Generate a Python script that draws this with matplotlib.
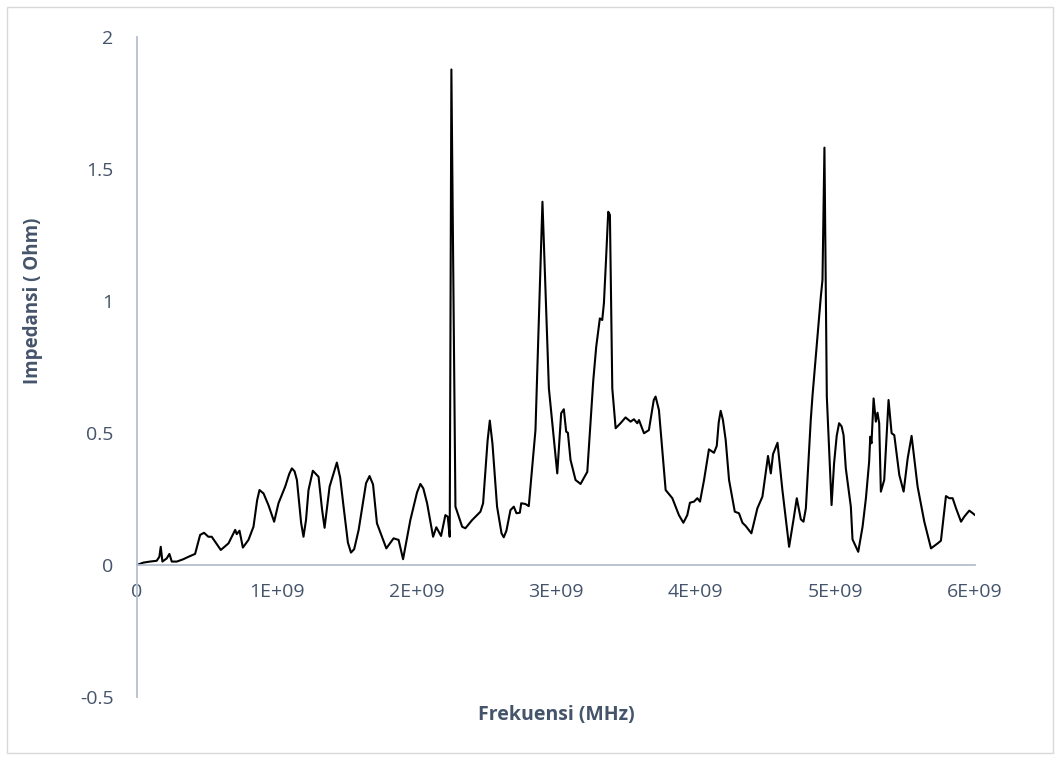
import matplotlib
matplotlib.use("Agg")
import matplotlib.pyplot as plt
from matplotlib.patches import Rectangle

# frequency in GHz (plotted in Hz), impedance in Ohm
freq_ghz = [
    0.000, 0.045, 0.093, 0.141, 0.160, 0.170, 0.182, 0.213, 0.232, 0.249,
    0.285, 0.332, 0.368, 0.416, 0.452, 0.480, 0.511, 0.535, 0.600, 0.655,
    0.703, 0.714, 0.734, 0.758, 0.798, 0.834, 0.860, 0.877, 0.906, 0.941,
    0.982, 1.013, 1.061, 1.090, 1.109, 1.128, 1.145, 1.175, 1.192, 1.210,
    1.228, 1.259, 1.300, 1.325, 1.343, 1.360, 1.379, 1.431, 1.455, 1.479,
    1.510, 1.532, 1.555, 1.587, 1.640, 1.665, 1.690, 1.718, 1.785, 1.837,
    1.873, 1.905, 1.957, 2.005, 2.029, 2.050, 2.077, 2.120, 2.143, 2.177,
    2.208, 2.225, 2.239, 2.251, 2.280, 2.328, 2.351, 2.399, 2.459, 2.478,
    2.510, 2.526, 2.545, 2.578, 2.610, 2.626, 2.645, 2.674, 2.698, 2.717,
    2.741, 2.751, 2.781, 2.805, 2.853, 2.903, 2.949, 3.009, 3.037, 3.056,
    3.073, 3.085, 3.104, 3.140, 3.176, 3.224, 3.267, 3.288, 3.314, 3.331,
    3.343, 3.357, 3.374, 3.386, 3.403, 3.427, 3.462, 3.498, 3.534, 3.558,
    3.582, 3.594, 3.630, 3.665, 3.700, 3.713, 3.737, 3.785, 3.833, 3.880,
    3.912, 3.940, 3.959, 3.988, 4.012, 4.031, 4.060, 4.095, 4.131, 4.151,
    4.165, 4.179, 4.195, 4.215, 4.239, 4.280, 4.310, 4.335, 4.358, 4.399,
    4.442, 4.478, 4.518, 4.538, 4.554, 4.586, 4.621, 4.669, 4.700, 4.724,
    4.753, 4.772, 4.789, 4.824, 4.836, 4.896, 4.908, 4.915, 4.922, 4.939,
    4.973, 4.991, 5.010, 5.027, 5.045, 5.059, 5.075, 5.111, 5.123, 5.164,
    5.195, 5.219, 5.242, 5.250, 5.259, 5.274, 5.290, 5.302, 5.314, 5.326,
    5.350, 5.381, 5.403, 5.422, 5.458, 5.489, 5.518, 5.546, 5.589, 5.637,
    5.661, 5.685, 5.733, 5.756, 5.792, 5.816, 5.840, 5.864, 5.900, 5.923,
    5.959, 5.984, 6.000,
]
impedance = [
    0.000, 0.009, 0.013, 0.016, 0.031, 0.069, 0.013, 0.025, 0.042, 0.013,
    0.013, 0.022, 0.031, 0.042, 0.114, 0.122, 0.107, 0.107, 0.057, 0.082,
    0.133, 0.117, 0.130, 0.066, 0.095, 0.145, 0.245, 0.284, 0.271, 0.227,
    0.164, 0.234, 0.297, 0.345, 0.366, 0.355, 0.322, 0.160, 0.107, 0.170,
    0.284, 0.357, 0.334, 0.210, 0.141, 0.215, 0.297, 0.388, 0.330, 0.221,
    0.085, 0.047, 0.060, 0.133, 0.310, 0.337, 0.305, 0.158, 0.063, 0.101,
    0.095, 0.022, 0.170, 0.275, 0.307, 0.290, 0.234, 0.107, 0.143, 0.110,
    0.189, 0.183, 0.107, 1.877, 0.221, 0.145, 0.139, 0.170, 0.202, 0.234,
    0.470, 0.547, 0.460, 0.221, 0.120, 0.105, 0.130, 0.208, 0.221, 0.196,
    0.198, 0.234, 0.231, 0.223, 0.511, 1.376, 0.669, 0.347, 0.575, 0.590,
    0.505, 0.501, 0.398, 0.322, 0.307, 0.353, 0.700, 0.827, 0.934, 0.928,
    0.991, 1.143, 1.338, 1.326, 0.669, 0.518, 0.537, 0.559, 0.543, 0.552,
    0.537, 0.549, 0.499, 0.511, 0.625, 0.638, 0.587, 0.284, 0.253, 0.189,
    0.160, 0.189, 0.236, 0.240, 0.253, 0.240, 0.322, 0.438, 0.425, 0.451,
    0.540, 0.584, 0.550, 0.473, 0.322, 0.202, 0.196, 0.160, 0.148, 0.120,
    0.215, 0.259, 0.413, 0.347, 0.420, 0.463, 0.284, 0.069, 0.170, 0.253,
    0.173, 0.164, 0.215, 0.549, 0.638, 1.016, 1.080, 1.345, 1.581, 0.638,
    0.227, 0.385, 0.490, 0.537, 0.525, 0.492, 0.366, 0.221, 0.097, 0.050,
    0.145, 0.253, 0.391, 0.486, 0.461, 0.631, 0.543, 0.577, 0.537, 0.278,
    0.322, 0.625, 0.499, 0.492, 0.341, 0.278, 0.404, 0.489, 0.297, 0.164,
    0.114, 0.063, 0.082, 0.092, 0.261, 0.253, 0.253, 0.215, 0.164, 0.183,
    0.206, 0.196, 0.189,
]

x_ticks = [0, 1e9, 2e9, 3e9, 4e9, 5e9, 6e9]
x_tick_labels = ["0", "1E+09", "2E+09", "3E+09", "4E+09", "5E+09", "6E+09"]
y_ticks = [-0.5, 0, 0.5, 1, 1.5, 2]
y_tick_labels = ["-0.5", "0", "0.5", "1", "1.5", "2"]

text_col = "#44546A"
axis_col = "#B4BFCF"

plt.rcParams["font.family"] = ["Open Sans", "DejaVu Sans"]

fig = plt.figure(figsize=(10.6, 7.6), dpi=100)
ax = fig.add_axes([137 / 1060, 1 - 697 / 760, 838 / 1060, 660 / 760])

freq_hz = [f * 1e9 for f in freq_ghz]
ax.plot(freq_hz, impedance, color="black", linewidth=1.5,
        solid_joinstyle="round", solid_capstyle="round")

ax.set_xlim(0, 6e9)
ax.set_ylim(-0.5, 2)

# excel style axes: x axis crosses at zero, no ticks
for side in ["top", "right"]:
    ax.spines[side].set_visible(False)
ax.spines["bottom"].set_position(("data", 0))
ax.spines["bottom"].set_color(axis_col)
ax.spines["left"].set_color(axis_col)
ax.spines["bottom"].set_linewidth(1.3)
ax.spines["left"].set_linewidth(1.3)

ax.set_xticks(x_ticks)
ax.set_xticklabels(x_tick_labels)
ax.set_yticks(y_ticks)
ax.set_yticklabels(y_tick_labels)
ax.tick_params(axis="x", length=0, pad=13, labelsize=14, labelcolor=text_col)
ax.tick_params(axis="y", length=0, pad=17, labelsize=14, labelcolor=text_col)

ax.set_xlabel("Frekuensi (MHz)", fontsize=14, fontweight="bold", color=text_col)
ax.xaxis.set_label_coords(0.5, -0.027)
ax.xaxis.label.set_va("center")
ax.set_ylabel("Impedansi ( Ohm)", fontsize=13.5, fontweight="bold", color=text_col)
ax.yaxis.set_label_coords(-0.124, 0.6)
ax.yaxis.label.set_va("center")

# light chart border
fig.patches.append(Rectangle((7 / 1060, 7 / 760), 1046 / 1060, 746 / 760,
                             transform=fig.transFigure, fill=False,
                             edgecolor="#D9D9D9", linewidth=1))

fig.savefig("out.png", dpi=100)
